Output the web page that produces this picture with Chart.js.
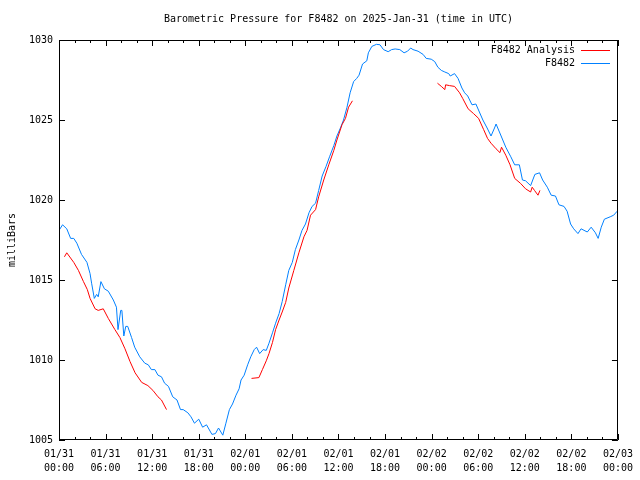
<!DOCTYPE html>
<html lang="en">
<head>
    <meta charset="UTF-8">
    <title>Barometric Pressure for F8482</title>
    <script src="https://cdn.jsdelivr.net/npm/chart.js@4"></script>
    <style>
        body { margin: 0; background: #fff; }
        #wrap { width: 640px; height: 480px; }
    </style>
</head>
<body>
    <div id="wrap"><canvas id="pressureChart" width="640" height="480"></canvas></div>

    <script>
        // tick labels for the x axis (hours since 01/31 00:00 UTC)
        const xTickDays = ['01/31', '01/31', '01/31', '01/31', '02/01', '02/01', '02/01', '02/01', '02/02', '02/02', '02/02', '02/02', '02/03'];
        const xTickTimes = ['00:00', '06:00', '12:00', '18:00', '00:00', '06:00', '12:00', '18:00', '00:00', '06:00', '12:00', '18:00', '00:00'];

        // F8482 observed (blue)
        const obsHours = [0.0, 0.46, 1.0, 1.5, 1.9, 2.3, 2.9, 3.6, 4.0, 4.2, 4.55, 4.85, 5.05, 5.4, 5.85, 6.35, 7.0, 7.4, 7.6, 7.95,
            8.1, 8.35, 8.6, 8.85, 9.35, 9.75, 10.4, 11.05, 11.5, 11.9, 12.35, 12.75, 13.2, 13.6, 14.1, 14.65, 15.2, 15.65, 16.0, 16.6,
            17.0, 17.45, 18.0, 18.5, 19.0, 19.7, 20.15, 20.55, 21.1, 21.5, 21.95, 22.35, 22.8, 23.2, 23.45, 23.85, 24.3, 24.7, 25.15, 25.45,
            25.85, 26.3, 26.7, 27.05, 27.5, 27.9, 28.35, 28.75, 29.2, 29.6, 30.05, 30.45, 30.9, 31.3, 31.75, 32.2, 32.6, 33.05, 33.45, 33.9,
            34.4, 34.85, 35.4, 35.8, 36.25, 36.65, 37.1, 37.5, 37.95, 38.35, 38.65, 39.1, 39.65, 39.85, 40.3, 40.9, 41.35, 41.8, 42.4, 42.85,
            43.3, 43.9, 44.45, 44.9, 45.3, 45.6, 46.25, 46.9, 47.3, 47.95, 48.4, 48.8, 49.25, 49.7, 50.2, 50.4, 50.95, 51.4, 51.9, 52.25,
            52.65, 53.2, 53.7, 54.15, 54.6, 55.15, 55.65, 56.1, 56.3, 56.95, 57.55, 58.2, 58.7, 59.3, 59.7, 60.1, 60.75, 61.3, 61.9, 62.3,
            62.9, 63.4, 63.95, 64.4, 65.05, 65.45, 65.9, 66.3, 66.85, 67.25, 68.05, 68.55, 69.1, 69.45, 69.85, 70.25, 71.0, 71.45, 71.9];
        const obsPressure = [1018.1, 1018.45, 1018.2, 1017.6, 1017.6, 1017.3, 1016.6, 1016.1, 1015.4, 1014.8, 1013.85, 1014.1, 1013.95, 1014.9, 1014.45, 1014.3, 1013.75, 1013.3, 1011.9, 1013.1,
            1013.1, 1011.5, 1012.1, 1012.1, 1011.4, 1010.8, 1010.2, 1009.8, 1009.7, 1009.4, 1009.4, 1009.05, 1008.95, 1008.55, 1008.35, 1007.7, 1007.5, 1006.9, 1006.9, 1006.7,
            1006.45, 1006.05, 1006.3, 1005.8, 1005.95, 1005.35, 1005.4, 1005.75, 1005.3, 1006.05, 1006.9, 1007.25, 1007.8, 1008.2, 1008.75, 1009.05, 1009.7, 1010.2, 1010.65, 1010.8,
            1010.4, 1010.65, 1010.6, 1011.05, 1011.7, 1012.3, 1012.9, 1013.65, 1014.7, 1015.6, 1016.1, 1016.9, 1017.5, 1018.1, 1018.5, 1019.2, 1019.6, 1019.8, 1020.6, 1021.5,
            1022.1, 1022.7, 1023.4, 1024.0, 1024.5, 1025.0, 1025.8, 1026.7, 1027.4, 1027.6, 1027.8, 1028.5, 1028.7, 1029.2, 1029.6, 1029.73, 1029.7, 1029.4, 1029.27, 1029.4,
            1029.44, 1029.4, 1029.2, 1029.3, 1029.5, 1029.4, 1029.3, 1029.1, 1028.85, 1028.8, 1028.65, 1028.3, 1028.1, 1028.0, 1027.9, 1027.75, 1027.9, 1027.6, 1027.0, 1026.7,
            1026.5, 1025.95, 1026.0, 1025.5, 1025.0, 1024.5, 1024.0, 1024.5, 1024.75, 1024.0, 1023.3, 1022.7, 1022.2, 1022.2, 1021.25, 1021.2, 1020.9, 1021.6, 1021.7, 1021.25,
            1020.8, 1020.3, 1020.25, 1019.7, 1019.6, 1019.3, 1018.5, 1018.2, 1017.9, 1018.2, 1018.0, 1018.3, 1017.95, 1017.6, 1018.3, 1018.8, 1018.95, 1019.05, 1019.3];

        // F8482 Analysis (red), null = gap between analysis runs
        const anaHours = [0.7, 1.0, 1.9, 2.5, 3.15, 3.65, 4.0, 4.65, 5.05, 5.7, 6.35, 7.2, 7.85, 8.5, 9.15, 9.8, 10.65, 11.45, 12.1, 12.75, 13.2, 13.85,
            19.0,
            24.8, 25.75, 26.2, 26.7, 27.05, 27.5, 27.9, 28.35, 28.75, 29.2, 29.6, 30.25, 30.9, 31.55, 31.95, 32.4, 33.05, 33.45, 34.1, 34.75, 35.4, 35.8, 36.45, 36.9, 37.3, 37.8,
            43.0,
            48.75, 49.25, 49.7, 49.8, 50.3, 50.95, 51.6, 52.0, 52.7, 53.4, 54.05, 54.7, 55.2, 55.65, 56.3, 56.8, 57.0, 57.55, 58.1, 58.7, 59.45, 60.1, 60.75, 60.95, 61.25, 61.7, 61.95];
        const anaPressure = [1016.45, 1016.7, 1016.1, 1015.6, 1014.9, 1014.4, 1013.85, 1013.2, 1013.1, 1013.2, 1012.6, 1011.9, 1011.4, 1010.7, 1009.9, 1009.2, 1008.6, 1008.4, 1008.1, 1007.7, 1007.5, 1006.9,
            null,
            1008.85, 1008.9, 1009.4, 1009.95, 1010.4, 1011.1, 1011.9, 1012.5, 1013.0, 1013.6, 1014.5, 1015.6, 1016.7, 1017.7, 1018.1, 1019.05, 1019.4, 1020.2, 1021.25, 1022.2, 1023.1, 1023.75, 1024.7, 1025.1, 1025.8, 1026.2,
            null,
            1027.3, 1027.1, 1026.9, 1027.2, 1027.15, 1027.1, 1026.7, 1026.35, 1025.7, 1025.4, 1025.1, 1024.4, 1023.85, 1023.55, 1023.2, 1022.96, 1023.3, 1022.8, 1022.2, 1021.35, 1021.04, 1020.7, 1020.5, 1020.8, 1020.6, 1020.3, 1020.6];

        const FONT = '10px "DejaVu Sans Mono", "Liberation Mono", monospace';

        function toPoints(xs, ys) {
            return xs.map((x, i) => ({ x: x, y: ys[i] }));
        }

        // gnuplot style: frame, inward ticks, title, legend and y label
        const gnuplotLook = {
            id: 'gnuplotLook',
            afterDatasetsDraw(chart) {
                const ctx = chart.ctx;
                const a = chart.chartArea;
                const xs = chart.scales.x;
                const ys = chart.scales.y;
                ctx.save();
                ctx.strokeStyle = '#000';
                ctx.lineWidth = 1;
                ctx.beginPath();
                ctx.rect(Math.round(a.left) + 0.5, Math.round(a.top) + 0.5, Math.round(a.right - a.left) - 1, Math.round(a.bottom - a.top) - 1);
                // x ticks, major every 6h, minor every 2h
                for (let h = 0; h <= 72; h += 2) {
                    const px = Math.round(xs.getPixelForValue(h)) + 0.5;
                    const len = h % 6 === 0 ? 6 : 3;
                    ctx.moveTo(px, a.bottom);
                    ctx.lineTo(px, a.bottom - len);
                    ctx.moveTo(px, a.top);
                    ctx.lineTo(px, a.top + len);
                }
                for (let v = 1005; v <= 1030; v += 5) {
                    const py = Math.round(ys.getPixelForValue(v)) + 0.5;
                    ctx.moveTo(a.left, py);
                    ctx.lineTo(a.left + 6, py);
                    ctx.moveTo(a.right, py);
                    ctx.lineTo(a.right - 6, py);
                }
                ctx.stroke();

                ctx.fillStyle = '#000';
                ctx.font = FONT;
                ctx.textBaseline = 'middle';
                ctx.textAlign = 'center';
                ctx.fillText('Barometric Pressure for F8482 on 2025-Jan-31 (time in UTC)', (a.left + a.right) / 2, 19);

                // legend
                const names = ['F8482 Analysis', 'F8482'];
                const colors = ['#ff0000', '#0080ff'];
                ctx.textAlign = 'right';
                names.forEach((n, i) => {
                    const y = 50 + i * 13;
                    ctx.fillStyle = '#000';
                    ctx.fillText(n, 575, y);
                    ctx.strokeStyle = colors[i];
                    ctx.beginPath();
                    ctx.moveTo(581, y + 0.5);
                    ctx.lineTo(610, y + 0.5);
                    ctx.stroke();
                });

                // y axis label
                ctx.fillStyle = '#000';
                ctx.translate(12, (a.top + a.bottom) / 2);
                ctx.rotate(-Math.PI / 2);
                ctx.textAlign = 'center';
                ctx.fillText('milliBars', 0, 0);
                ctx.restore();
            }
        };

        new Chart(document.getElementById('pressureChart'), {
            type: 'line',
            data: {
                datasets: [{
                    label: 'F8482 Analysis',
                    data: toPoints(anaHours, anaPressure),
                    borderColor: '#ff0000',
                    borderWidth: 1,
                    pointRadius: 0,
                    spanGaps: false,
                    tension: 0
                }, {
                    label: 'F8482',
                    data: toPoints(obsHours, obsPressure),
                    borderColor: '#0080ff',
                    borderWidth: 1,
                    pointRadius: 0,
                    tension: 0
                }]
            },
            options: {
                responsive: false,
                animation: false,
                layout: { padding: { left: 0, right: 19, top: 40, bottom: 0 } },
                plugins: {
                    legend: { display: false },
                    title: { display: false },
                    tooltip: { enabled: false }
                },
                scales: {
                    x: {
                        type: 'linear',
                        min: 0,
                        max: 72,
                        grid: { display: false, drawTicks: false },
                        border: { display: false },
                        afterBuildTicks(scale) {
                            scale.ticks = xTickDays.map((d, i) => ({ value: i * 6 }));
                        },
                        afterFit(scale) { scale.height = 40; },
                        ticks: {
                            autoSkip: false,
                            maxRotation: 0,
                            padding: 7,
                            color: '#000',
                            font: { family: '"DejaVu Sans Mono", "Liberation Mono", monospace', size: 10, lineHeight: 1.4 },
                            callback: (value, i) => [xTickDays[i], xTickTimes[i]]
                        }
                    },
                    y: {
                        min: 1005,
                        max: 1030,
                        grid: { display: false, drawTicks: false },
                        border: { display: false },
                        afterFit(scale) { scale.width = 59; },
                        ticks: {
                            stepSize: 5,
                            padding: 6,
                            color: '#000',
                            font: { family: '"DejaVu Sans Mono", "Liberation Mono", monospace', size: 10 },
                            callback: (value) => String(value)
                        }
                    }
                }
            },
            plugins: [gnuplotLook]
        });
    </script>
</body>
</html>
